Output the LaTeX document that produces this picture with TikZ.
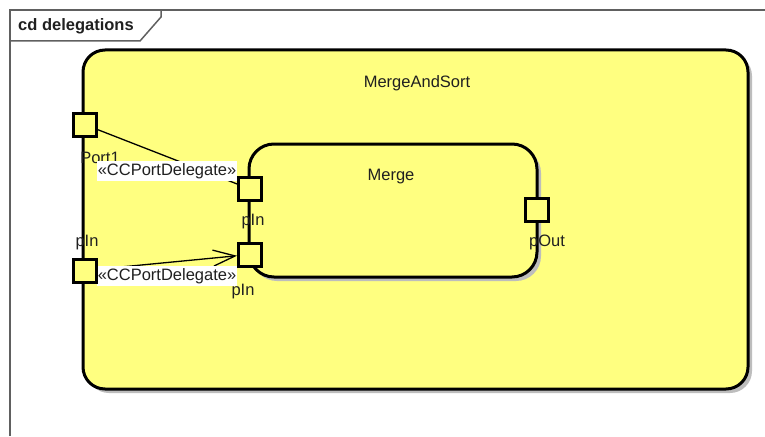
\documentclass[tikz,border=0pt]{standalone}
\usepackage{fontspec}
\setmainfont{Liberation Sans}
\usetikzlibrary{arrows.meta}
\definecolor{uyellow}{HTML}{FFFF80}
\definecolor{ushadow}{HTML}{BDBDBD}
\definecolor{utext}{HTML}{202020}
\definecolor{uframe}{HTML}{606060}
\pgfdeclarelayer{front}
\pgfsetlayers{main,front}
\tikzset{
  txt/.style={font=\fontsize{16.5}{19}\selectfont, text=utext, inner sep=0pt},
  portbox/.style={draw=black, line width=3pt, fill=uyellow, minimum width=23pt, minimum height=23pt, inner sep=0pt},
  stereo/.style={txt, fill=white, inner xsep=1pt, inner ysep=2pt},
  conn/.style={draw=black, line width=1.3pt},
  openarrow/.style={-{Straight Barb[length=22pt,width=16pt,line width=1.3pt]}},
}
\begin{document}
\begin{tikzpicture}[x=1pt,y=-1pt]
\useasboundingbox (0,0) rectangle (765,436);
\fill[white] (0,0) rectangle (765,436);
% frame
\draw[uframe, line width=1.5pt] (10,436) -- (10,10) -- (765,10);
\draw[uframe, line width=1.5pt] (10,41) -- (140,41) -- (161,17) -- (161,10);
\node[txt, font=\fontsize{16.5}{19}\selectfont\bfseries, anchor=west] (title) at (18,26) {cd delegations};
% outer component
\fill[ushadow, rounded corners=22pt] (87,54) rectangle (752,393);
\draw[black, line width=3pt, fill=uyellow, rounded corners=22pt] (83,50) rectangle (748,389);
\node[txt] (mas) at (417,83) {MergeAndSort};
% inner component
\fill[ushadow, rounded corners=25pt] (252,148) rectangle (541,281);
\draw[black, line width=3pt, fill=uyellow, rounded corners=25pt] (249,144) rectangle (537,277);
\node[txt] (merge) at (391,177) {Merge};
% ports
\begin{pgfonlayer}{front}
\node[portbox] (port1) at (84.5,124.5) {};
\node[portbox] (opin) at (84.5,270.5) {};
\node[portbox] (ipa) at (250,189) {};
\node[portbox] (ipb) at (250,254.5) {};
\node[portbox] (pout) at (536.5,210) {};
\end{pgfonlayer}
% port labels
\node[txt] (lport1) at (100,158) {Port1};
\node[txt] (lopin) at (87,243) {pIn};
\node[txt] (lipa) at (253,222) {pIn};
\node[txt] (lipb) at (243,292) {pIn};
\node[txt] (lpout) at (547,242) {pOut};
% connectors
\draw[conn] (port1) -- (ipa);
\draw[conn, openarrow] (opin) -- (ipb);
% stereotypes
\node[stereo] (s1) at (167,171) {«CCPortDelegate»};
\node[stereo] (s2) at (167,276) {«CCPortDelegate»};
\end{tikzpicture}
\end{document}
